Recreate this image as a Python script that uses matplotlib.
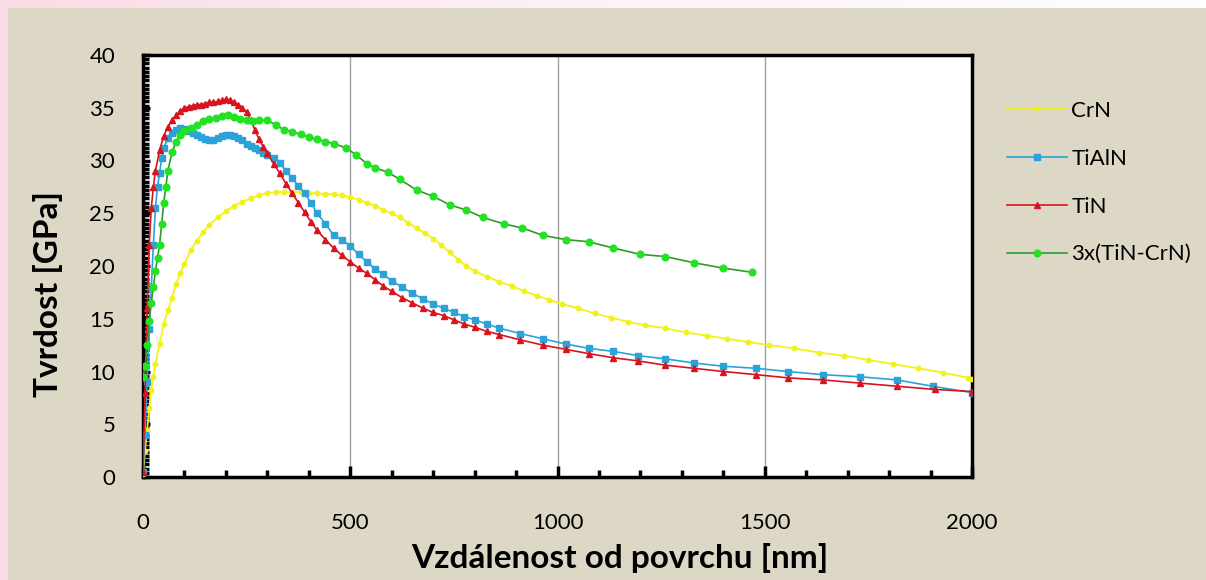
"""Tvrdost vs. vzdalenost od povrchu (nanoindentation depth profiles)"""
import numpy as np
import matplotlib.pyplot as plt
from matplotlib.colors import LinearSegmentedColormap
from matplotlib.patches import Rectangle
from matplotlib.ticker import MultipleLocator

plt.rcParams['font.family'] = ['Lato', 'DejaVu Sans']

# ---- data ----
crn_x = [0, 5, 10, 15, 20, 25, 30, 40, 50, 60, 70, 80, 90, 100, 115, 130, 145,
         160, 180, 200, 220, 240, 260, 280, 300, 320, 340, 360, 380, 400, 420,
         440, 460, 480, 500, 520, 540, 560, 580, 600, 620, 640, 660, 680, 700,
         720, 740, 760, 780, 800, 830, 860, 890, 920, 950, 980, 1010, 1050,
         1090, 1130, 1170, 1210, 1260, 1310, 1360, 1410, 1460, 1510, 1570,
         1630, 1690, 1750, 1810, 1870, 1930, 1990, 2000]
crn_y = [0.3, 2.5, 4.5, 6.5, 8.2, 9.5, 10.7, 12.6, 14.5, 15.8, 17.0, 18.3, 19.3,
         20.2, 21.5, 22.4, 23.2, 23.9, 24.6, 25.2, 25.7, 26.1, 26.4, 26.7, 26.9,
         27.0, 27.0, 27.0, 27.0, 26.9, 26.9, 26.8, 26.8, 26.7, 26.5, 26.3, 26.0,
         25.7, 25.3, 25.0, 24.6, 24.1, 23.6, 23.1, 22.6, 22.0, 21.3, 20.6, 20.0,
         19.5, 19.0, 18.5, 18.1, 17.6, 17.2, 16.8, 16.4, 16.0, 15.5, 15.1, 14.7,
         14.4, 14.1, 13.7, 13.4, 13.1, 12.8, 12.5, 12.2, 11.8, 11.5, 11.1, 10.7,
         10.3, 9.9, 9.4, 9.3]

tialn_x = [0, 5, 10, 15, 20, 25, 30, 35, 40, 45, 50, 60, 70, 80, 90, 100, 110,
           120, 130, 140, 150, 160, 170, 180, 190, 200, 210, 220, 230, 240, 250,
           260, 270, 280, 290, 300, 315, 330, 345, 360, 375, 390, 405, 420, 440,
           460, 480, 500, 520, 540, 560, 580, 600, 625, 650, 675, 700, 725, 750,
           775, 800, 830, 860, 910, 965, 1020, 1075, 1135, 1195, 1260, 1330,
           1400, 1480, 1555, 1640, 1730, 1820, 1905, 2000]
tialn_y = [0.5, 4, 9, 14, 18, 22, 25.5, 27.5, 28.8, 30.2, 31.2, 32.1, 32.6,
           32.9, 33.1, 33.0, 32.8, 32.6, 32.4, 32.2, 32.0, 31.9, 31.9, 32.1,
           32.3, 32.4, 32.4, 32.3, 32.1, 31.9, 31.6, 31.4, 31.2, 31.0, 30.7,
           30.5, 30.2, 29.8, 29.0, 28.3, 27.6, 26.9, 26.0, 25.0, 24.0, 22.9,
           22.5, 21.9, 21.1, 20.4, 19.7, 19.2, 18.6, 18.0, 17.4, 16.9, 16.4,
           16.0, 15.6, 15.2, 14.9, 14.5, 14.1, 13.6, 13.1, 12.6, 12.2, 11.9,
           11.5, 11.2, 10.8, 10.5, 10.3, 10.0, 9.7, 9.5, 9.2, 8.6, 8.0]

tin_x = [0, 5, 10, 15, 20, 25, 30, 40, 50, 60, 70, 80, 90, 100, 110, 120, 130,
         140, 150, 160, 170, 180, 190, 200, 210, 220, 230, 240, 250, 260, 270,
         280, 290, 300, 315, 330, 345, 360, 375, 390, 405, 420, 440, 460, 480,
         500, 520, 540, 560, 580, 600, 625, 650, 675, 700, 725, 750, 775, 800,
         830, 860, 910, 965, 1020, 1075, 1135, 1195, 1260, 1330, 1400, 1480,
         1555, 1640, 1730, 1820, 1910, 2000]
tin_y = [0.5, 8, 16, 22, 25.5, 27.5, 29, 31, 32.3, 33.2, 33.8, 34.3, 34.7,
         35.0, 35.1, 35.2, 35.3, 35.3, 35.4, 35.5, 35.5, 35.6, 35.7, 35.8,
         35.7, 35.5, 35.3, 35.0, 34.6, 33.8, 32.9, 32.0, 31.3, 30.7, 29.7,
         28.8, 27.8, 26.9, 26.0, 25.1, 24.2, 23.4, 22.5, 21.7, 21.0, 20.4,
         19.8, 19.3, 18.7, 18.1, 17.6, 17.0, 16.5, 16.0, 15.6, 15.3, 14.9,
         14.5, 14.2, 13.8, 13.5, 13.0, 12.5, 12.1, 11.7, 11.3, 11.0, 10.6,
         10.3, 10.0, 9.7, 9.4, 9.2, 8.9, 8.6, 8.3, 8.1]

multi_x = [0, 5, 10, 15, 20, 25, 30, 35, 40, 45, 50, 55, 60, 70, 80, 90, 100,
           115, 130, 145, 160, 175, 190, 205, 220, 235, 250, 265, 280, 300, 320,
           340, 360, 380, 400, 420, 440, 460, 490, 515, 540, 560, 590, 620, 660,
           700, 740, 780, 820, 870, 915, 965, 1020, 1075, 1135, 1200, 1260,
           1330, 1400, 1470]
multi_y = [9.5, 10.5, 12.5, 14.8, 16.5, 18.0, 19.5, 20.8, 22.0, 24.0, 26.0,
           27.5, 29.0, 30.8, 31.8, 32.4, 32.8, 33.1, 33.4, 33.7, 33.9, 34.0,
           34.2, 34.3, 34.1, 33.9, 33.8, 33.7, 33.8, 33.8, 33.4, 32.9, 32.7,
           32.5, 32.2, 32.0, 31.8, 31.6, 31.2, 30.5, 29.7, 29.3, 28.9, 28.2,
           27.2, 26.6, 25.8, 25.3, 24.6, 24.0, 23.6, 22.9, 22.5, 22.3, 21.7,
           21.1, 20.9, 20.3, 19.8, 19.4]

labels = ['CrN', 'TiAlN', 'TiN', '3x(TiN-CrN)']

fig = plt.figure(figsize=(12.06, 5.8), dpi=100)

# pink-to-white backdrop and the beige chart panel
bg = fig.add_axes([0, 0, 1, 1], zorder=-10)
grad = np.linspace(0, 1, 256)[None, :]
bg_cmap = LinearSegmentedColormap.from_list('bg', ['#fadde4', '#fdf3f5', '#ffffff'])
bg.imshow(grad, aspect='auto', cmap=bg_cmap, extent=[0, 1, 0, 1])
bg.add_patch(Rectangle((8/1206, 0), 1, 1 - 8/580, color='#ddd7c6', lw=0))
bg.set_xlim(0, 1)
bg.set_ylim(0, 1)
bg.axis('off')

ax = fig.add_axes([143/1206, 103/580, 829/1206, 422/580])
ax.set_facecolor('white')

ax.plot(crn_x, crn_y, '-o', color='#f2f21a', lw=1.3, ms=3.2, mec='#f2f21a',
        label=labels[0], zorder=3)
ax.plot(tialn_x, tialn_y, '-s', color='#2ba3d9', lw=1.2, ms=4.2, mec='#2ba3d9',
        label=labels[1], zorder=4)
ax.plot(tin_x, tin_y, '-^', color='#d8141e', lw=1.2, ms=4.2, mec='#d8141e',
        label=labels[2], zorder=5)
ax.plot(multi_x, multi_y, '-o', color='#2e9a2e', lw=1.2, ms=4.8,
        mfc='#22e322', mec='#22e322', label=labels[3], zorder=6)

ax.set_xlim(0, 2000)
ax.set_ylim(0, 40)
ax.xaxis.set_major_locator(MultipleLocator(500))
ax.xaxis.set_minor_locator(MultipleLocator(100))
ax.yaxis.set_major_locator(MultipleLocator(5))
ax.yaxis.set_minor_locator(MultipleLocator(0.4))
ax.grid(axis='x', which='major', color='#a0a0a0', lw=1)
ax.set_axisbelow(True)

ax.tick_params(axis='x', which='major', direction='in', length=8, width=2.5,
               labelsize=16, pad=26)
ax.tick_params(axis='x', which='minor', direction='in', length=5, width=2.5)
ax.tick_params(axis='y', which='major', direction='in', length=5, width=2.5,
               labelsize=16, pad=20)
ax.tick_params(axis='y', which='minor', direction='in', length=4, width=2.5)
for s in ax.spines.values():
    s.set_linewidth(2.5)
    s.set_color('black')

ax.set_xlabel('Vzdálenost od povrchu [nm]', fontsize=24, fontweight='bold',
              va='center')
ax.set_ylabel('Tvrdost [GPa]', fontsize=24, fontweight='bold', va='center')
ax.xaxis.set_label_coords(0.575, -0.192)
ax.yaxis.set_label_coords(-0.115, 0.434)

fig.legend(loc='upper left', bbox_to_anchor=(1007/1206, 1 - 101/580),
           frameon=False, fontsize=16, labelspacing=1.25, handlelength=2.7,
           handletextpad=0.2, borderpad=0, borderaxespad=0)

plt.savefig('out.png', dpi=100)
